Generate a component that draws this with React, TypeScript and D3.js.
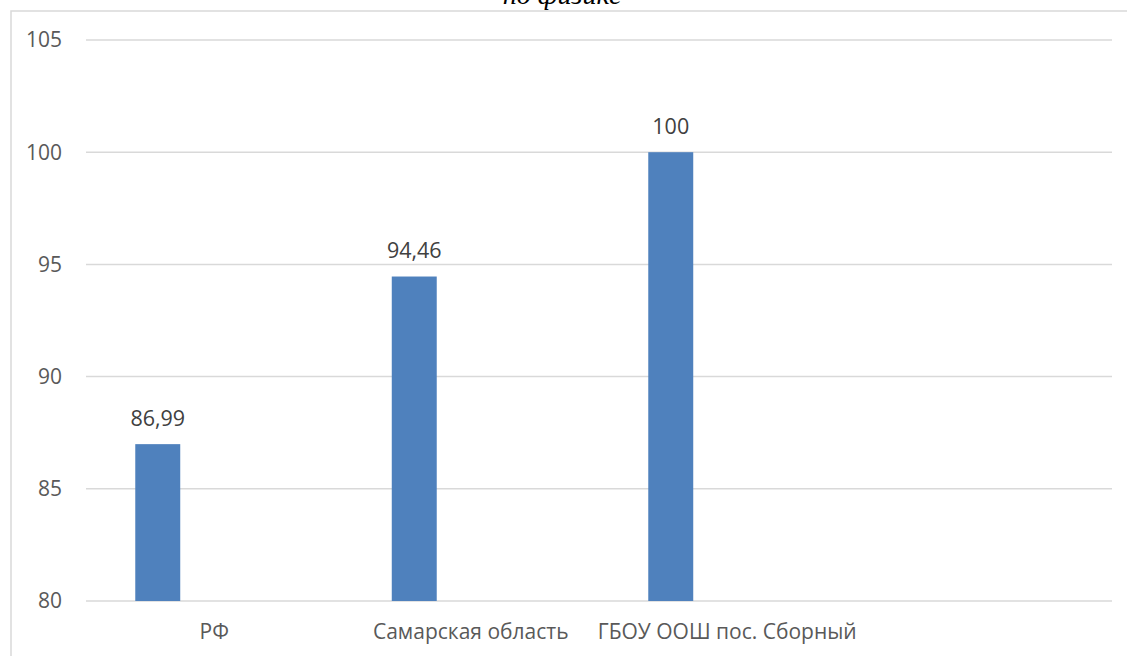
import React from "react";
import * as d3 from "d3";

// Средний процент качества по физике
const categories: string[] = ["РФ", "Самарская область", "ГБОУ ООШ пос. Сборный", ""];
const seriesKeys: string[] = ["качество", "резерв"];
const values: (number | null)[] = [86.99, 94.46, 100, null];
const valueLabels: string[] = ["86,99", "94,46", "100", ""];
const yTicks: number[] = [80, 85, 90, 95, 100, 105];

const W = 1127;
const H = 656;
const FONT = "'Open Sans', 'Noto Sans', sans-serif";

export default function App() {
  const left = 86;
  const right = 1112;
  const top = 40;
  const bottom = 601;

  const x0 = d3.scaleBand<string>().domain(categories).range([left, right]).padding(0);
  const x1 = d3
    .scaleBand<string>()
    .domain(seriesKeys)
    .range([0, x0.bandwidth()])
    .paddingInner(0.602)
    .paddingOuter(0.436);
  const y = d3.scaleLinear().domain([80, 105]).range([bottom, top]);

  return (
    <svg
      width={W}
      height={H}
      style={{ position: "absolute", left: 0, top: 0, background: "#fff" }}
      fontFamily={FONT}
    >
      {/* рамка области диаграммы */}
      <path d={`M11,${H} V11 H${W}`} fill="none" stroke="#d9d9d9" strokeWidth={1.5} />

      <text
        x={562}
        y={4}
        textAnchor="middle"
        fontFamily="'Liberation Serif', 'DejaVu Serif', serif"
        fontStyle="italic"
        fontSize={28}
        fill="#000"
      >
        по физике
      </text>

      {yTicks.map((t) => (
        <g key={t}>
          <line x1={left} x2={right} y1={y(t)} y2={y(t)} stroke="#d9d9d9" strokeWidth={1.5} />
          <text
            x={62}
            y={y(t)}
            dy="0.35em"
            textAnchor="end"
            fontSize={21}
            fill="#595959"
          >
            {t}
          </text>
        </g>
      ))}

      {categories.map((c, i) => {
        const v = values[i];
        const bx = (x0(c) ?? 0) + (x1(seriesKeys[0]) ?? 0);
        const bw = x1.bandwidth();
        return (
          <g key={i}>
            {v !== null && (
              <>
                <rect x={bx} y={y(v)} width={bw} height={y(80) - y(v)} fill="#4f81bd" />
                <text
                  x={bx + bw / 2}
                  y={y(v) - 26}
                  dy="0.35em"
                  textAnchor="middle"
                  fontSize={21.5}
                  fill="#404040"
                >
                  {valueLabels[i]}
                </text>
              </>
            )}
            {c && (
              <text
                x={(x0(c) ?? 0) + x0.bandwidth() / 2}
                y={632}
                dy="0.35em"
                textAnchor="middle"
                fontSize={21}
                fill="#595959"
              >
                {c}
              </text>
            )}
          </g>
        );
      })}
    </svg>
  );
}
